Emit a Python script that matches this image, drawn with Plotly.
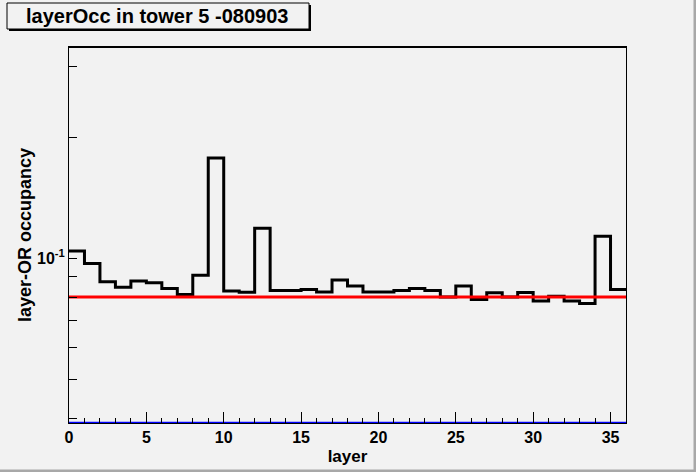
import plotly.graph_objects as go

# histogram contents, one value per layer bin (0..35)
layers = list(range(37))  # bin edges
occupancy = [0.1041, 0.0970, 0.0873, 0.0846, 0.0877, 0.0868, 0.0840, 0.0812, 0.0907, 0.1774,
             0.0828, 0.0823, 0.1187, 0.0831, 0.0831, 0.0836, 0.0824, 0.0882, 0.0852, 0.0824,
             0.0824, 0.0831, 0.0840, 0.0831, 0.0800, 0.0852, 0.0789, 0.0820, 0.0800, 0.0821,
             0.0782, 0.0804, 0.0782, 0.0771, 0.1134, 0.0836]
threshold = 0.08
floor_value = 0.0389

ytick_vals = [0.04, 0.05, 0.06, 0.07, 0.08, 0.09, 0.1, 0.2, 0.3]
ytick_text = ["" if v != 0.1 else "10<sup>-1</sup>" for v in ytick_vals]

BG = "#f2f2f2"
FONT = "Liberation Sans, Arial, sans-serif"

# plot area in pixels
L, R, T, B = 69, 626, 47, 423
W, H = 696, 472


def px(x):
    return (x - L) / (R - L)


def py(y):
    return (B - y) / (B - T)


fig = go.Figure()

# histogram outline (step)
fig.add_trace(go.Scatter(
    x=layers, y=occupancy + [occupancy[-1]],
    mode="lines", line=dict(color="black", width=3, shape="hv"),
    showlegend=False, hoverinfo="skip"))

# threshold line
fig.add_trace(go.Scatter(
    x=[layers[0], layers[-1]], y=[threshold, threshold],
    mode="lines", line=dict(color="red", width=3),
    showlegend=False, hoverinfo="skip"))

# blue line at the bottom
fig.add_trace(go.Scatter(
    x=[layers[0], layers[-1]], y=[floor_value, floor_value],
    mode="lines", line=dict(color="blue", width=2.5),
    cliponaxis=False, showlegend=False, hoverinfo="skip"))

# thicker top edge of the frame
fig.add_shape(type="line", xref="paper", yref="paper",
              x0=0, x1=1, y0=1, y1=1, line=dict(color="black", width=2))

# title box with shadow
fig.add_shape(type="rect", xref="paper", yref="paper",
              x0=px(9), x1=px(311), y0=py(31), y1=py(5),
              fillcolor="black", line=dict(width=0), layer="above")
fig.add_shape(type="rect", xref="paper", yref="paper",
              x0=px(7), x1=px(309), y0=py(29), y1=py(3),
              fillcolor=BG, line=dict(color="black", width=1), layer="above")
fig.add_annotation(text="layerOcc in tower 5 -080903", xref="paper", yref="paper",
                   x=px(157), y=py(16), xanchor="center", yanchor="middle",
                   showarrow=False,
                   font=dict(family=FONT, size=20, color="black", weight="bold"))

# canvas bevel border
fig.add_shape(type="line", xref="paper", yref="paper",
              x0=px(695), x1=px(695), y0=py(0), y1=py(472),
              line=dict(color="#a8a8a8", width=3))
fig.add_shape(type="line", xref="paper", yref="paper",
              x0=px(0), x1=px(696), y0=py(471), y1=py(471),
              line=dict(color="#a8a8a8", width=3))

fig.update_layout(
    width=W, height=H,
    margin=dict(l=L, r=W - R, t=T, b=H - B),
    paper_bgcolor=BG, plot_bgcolor=BG,
    font=dict(family=FONT, size=16, color="black"),
    xaxis=dict(
        range=[0, 36], showgrid=False, zeroline=False, automargin=False,
        showline=True, mirror=True, linecolor="black", linewidth=1,
        ticks="inside", ticklen=11, tickwidth=1, tickcolor="black",
        tick0=0, dtick=5,
        minor=dict(ticks="inside", ticklen=5, dtick=1, tickcolor="black"),
        tickfont=dict(size=16, family=FONT, weight="bold"),
        title=dict(text="layer", font=dict(size=17, family=FONT, weight="bold"), standoff=4),
    ),
    yaxis=dict(
        type="log", range=[-1.41, -0.475], showgrid=False, zeroline=False, automargin=False,
        showline=True, mirror=True, linecolor="black", linewidth=1,
        ticks="inside", ticklen=8, tickwidth=1, tickcolor="black",
        tickvals=ytick_vals, ticktext=ytick_text,
        tickfont=dict(size=16, family=FONT, weight="bold"),
        title=dict(text="layer-OR occupancy", font=dict(size=18, family=FONT, weight="bold"),
                   standoff=0),
    ),
)

# drop the page's default body margin so the canvas sits at the window corner
fig.write_html("out.html", config={"displayModeBar": False},
               post_script="document.body.style.margin='0';")
